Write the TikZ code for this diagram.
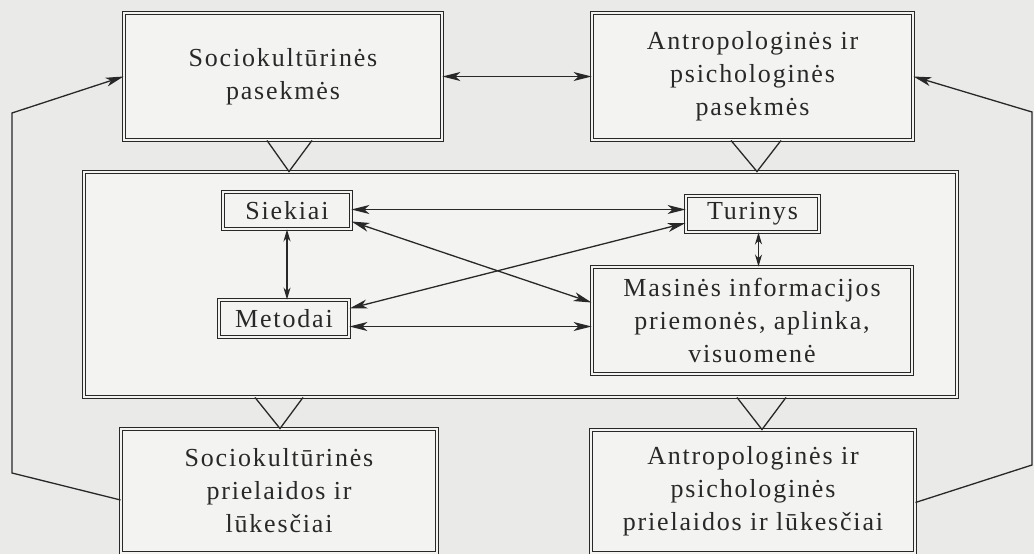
\documentclass[tikz,border=0pt]{standalone}
\usepackage{fontspec}
\setmainfont{Liberation Serif}[LetterSpace=7]
\usetikzlibrary{arrows.meta,calc}
\definecolor{ink}{RGB}{40,40,40}
\definecolor{paper}{RGB}{234,234,232}
\definecolor{boxbg}{RGB}{243,243,241}
\begin{document}
\begin{tikzpicture}[x=1pt,y=-1pt,
  dbox/.style={draw=ink, line width=0.9pt, double=boxbg, double distance=1.8pt,
    fill=boxbg, inner sep=0pt, align=center, text=ink,
    font=\fontsize{26}{33}\selectfont},
  conn/.style={draw=ink, line width=1.3pt},
  tip/.style={-{Stealth[length=18pt,width=9pt,inset=5pt]}},
  twoway/.style={{Stealth[length=18pt,width=9pt,inset=5pt]}-{Stealth[length=18pt,width=9pt,inset=5pt]}},
  twowaysmall/.style={{Stealth[length=12pt,width=7pt,inset=3.5pt]}-{Stealth[length=12pt,width=7pt,inset=3.5pt]}}
]
\useasboundingbox (0,0) rectangle (1034,554);
\clip (0,0) rectangle (1034,554);
\fill[paper] (0,0) rectangle (1034,554);

% boxes
\node[dbox, minimum width=318pt, minimum height=127pt] (tl) at (283,76.5)
  {Sociokultūrinės\\pasekmės};
\node[dbox, minimum width=321pt, minimum height=127pt] (tr) at (752.5,76.5)
  {Antropologinės ir\\psichologinės\\pasekmės};
\node[dbox, minimum width=873pt, minimum height=225pt] (mid) at (520.5,284.5) {};
\node[dbox, minimum width=128pt, minimum height=37pt] (sie) at (287,210.5) {Siekiai};
\node[dbox, minimum width=130pt, minimum height=37pt] (met) at (284,318.5) {Metodai};
\node[dbox, minimum width=133pt, minimum height=36pt] (tur) at (752.5,214) {Turinys};
\node[dbox, minimum width=320pt, minimum height=107pt] (mas) at (752,320.5)
  {Masinės informacijos\\priemonės, aplinka,\\visuomenė};
\node[dbox, minimum width=316pt, minimum height=124pt] (bl) at (279,491)
  {Sociokultūrinės\\prielaidos ir\\lūkesčiai};
\node[dbox, minimum width=324pt, minimum height=123pt] (br) at (753,491.5)
  {Antropologinės ir\\psichologinės\\prielaidos ir lūkesčiai};

% outer loop corners
\coordinate (lb) at (12,473);
\coordinate (lt) at (12,113);
\coordinate (rb) at (1032,465);
\coordinate (rt) at (1032,112);

% triangles
\draw[conn, line join=miter] ($(tl.south)+(-16,0)$) -- ($(tl.south |- mid.north)+(6,0)$) -- ($(tl.south)+(29,0)$);
\draw[conn, line join=miter] ($(tr.south)+(-21.5,0)$) -- ($(tr.south |- mid.north)+(4.5,0)$) -- ($(tr.south)+(28.5,0)$);
\draw[conn, line join=miter] ($(bl.north |- mid.south)+(-24,0)$) -- ($(bl.north)+(1,0)$) -- ($(bl.north |- mid.south)+(24,0)$);
\draw[conn, line join=miter] ($(br.north |- mid.south)+(-16,0)$) -- ($(br.north)+(9,0)$) -- ($(br.north |- mid.south)+(33,0)$);

% top connectors
\draw[conn,twoway] (tl.east) -- (tr.west);
\draw[conn,tip] ([yshift=-9pt]bl.west) -- (lb) -- (lt) -- (tl.west);
\draw[conn,tip] ([yshift=-11pt]br.east) -- (rb) -- (rt) -- (tr.east);

% inner connectors
\draw[conn,twoway] ([yshift=1pt]sie.east) -- ([yshift=1pt]sie.east -| tur.west);
\draw[conn,twoway] ([yshift=-11pt]sie.east) -- ([yshift=18pt]mas.west);
\draw[conn,twoway] ([yshift=10pt]met.east) -- ([yshift=-9pt]tur.west);
\draw[conn,twoway] ([yshift=-8pt]met.east) -- ([yshift=-8pt]met.east -| mas.west);
\draw[conn,twowaysmall] (sie.south) -- (sie.south |- met.north);
\draw[conn,twowaysmall] ([xshift=6pt]tur.south) -- ([xshift=6pt]tur.south |- mas.north);
\end{tikzpicture}
\end{document}
